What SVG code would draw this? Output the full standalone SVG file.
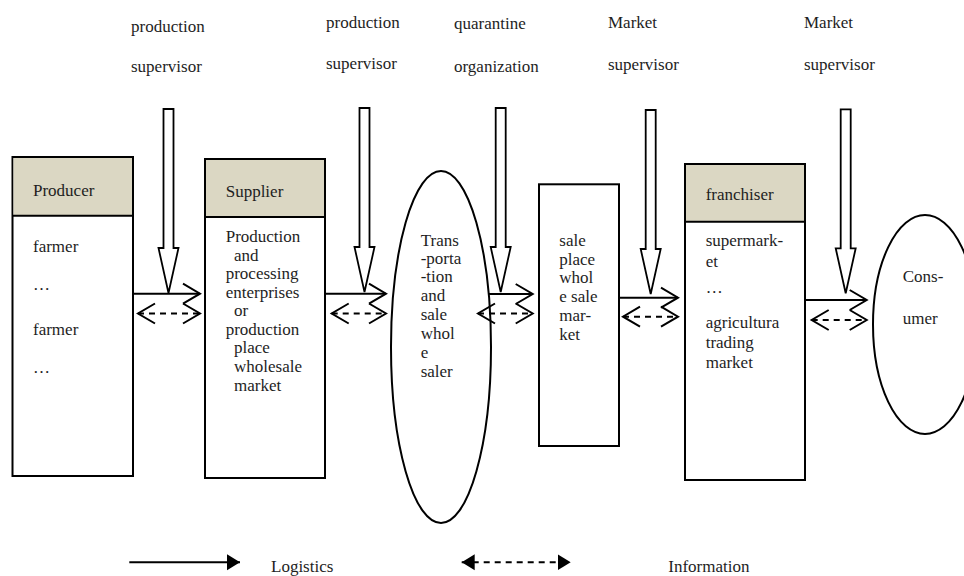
<svg xmlns="http://www.w3.org/2000/svg" width="964" height="576" viewBox="0 0 964 576">
<style>
text{font-family:"Liberation Serif","Times New Roman",serif;font-size:17px;fill:#1e1e1e}
.box{fill:#fff;stroke:#000;stroke-width:2}
.hdr{fill:#dbd7c3;stroke:none}
.sep{stroke:#000;stroke-width:2}
.oval{fill:#fff;stroke:#000;stroke-width:2}
.block{fill:#fff;stroke:#000;stroke-width:1.8;stroke-linejoin:miter}
.log{stroke:#000;stroke-width:2;fill:none}
.info{stroke:#000;stroke-width:2;fill:none;stroke-dasharray:6 5}
.chev{fill:none;stroke:#000;stroke-width:2}
.tri{fill:#000;stroke:none}
</style>
<defs>
<marker id="open" markerUnits="userSpaceOnUse" markerWidth="22" markerHeight="24" viewBox="0 0 22 24" refX="19" refY="12" orient="auto-start-reverse">
<path class="chev" d="M2,2 L19,12 L2,22"/>
</marker>
<marker id="solid" markerUnits="userSpaceOnUse" markerWidth="14" markerHeight="18" viewBox="0 0 14 18" refX="13" refY="9" orient="auto-start-reverse">
<path class="tri" d="M0,1 L13,9 L0,17 Z"/>
</marker>
<path id="blk" class="block" d="M-5,-184 H5 V-45 H10 L0,0 L-10,-45 H-5 Z"/>
</defs>

<g id="labels">
<text x="131" y="32">production</text>
<text x="131" y="72">supervisor</text>
<text x="326" y="28">production</text>
<text x="326" y="69">supervisor</text>
<text x="454" y="29">quarantine</text>
<text x="454" y="72">organization</text>
<text x="608" y="28">Market</text>
<text x="608" y="70">supervisor</text>
<text x="804" y="28">Market</text>
<text x="804" y="70">supervisor</text>
</g>

<g id="producer">
<rect class="box" x="12.5" y="157" width="120.5" height="319"/>
<rect class="hdr" x="13.5" y="158" width="118.5" height="57.5"/>
<line class="sep" x1="12.5" y1="215.7" x2="133" y2="215.7"/>
<text x="33" y="196">Producer</text>
<text x="33" y="252">farmer</text>
<text x="33" y="290">…</text>
<text x="33" y="335">farmer</text>
<text x="33" y="373">…</text>
</g>

<g id="supplier">
<rect class="box" x="205" y="159" width="120" height="319"/>
<rect class="hdr" x="206" y="160" width="118" height="57"/>
<line class="sep" x1="205" y1="217" x2="325" y2="217"/>
<text x="225.7" y="197">Supplier</text>
<text x="225.7" y="242">Production</text>
<text x="234" y="261">and</text>
<text x="225.7" y="279">processing</text>
<text x="225.7" y="298">enterprises</text>
<text x="234" y="316">or</text>
<text x="225.7" y="335">production</text>
<text x="234" y="353">place</text>
<text x="234" y="372">wholesale</text>
<text x="234" y="391">market</text>
</g>

<g id="transport">
<ellipse class="oval" cx="441" cy="347" rx="50" ry="176"/>
<text x="420.7" y="246">Trans</text>
<text x="420.7" y="264">-porta</text>
<text x="420.7" y="282">-tion</text>
<text x="420.7" y="301">and</text>
<text x="420.7" y="320">sale</text>
<text x="420.7" y="339">whol</text>
<text x="420.7" y="358">e</text>
<text x="420.7" y="377">saler</text>
</g>

<g id="saleplace">
<rect class="box" x="539" y="184.3" width="80" height="261.7"/>
<text x="559.3" y="246">sale</text>
<text x="559.3" y="265">place</text>
<text x="559.3" y="283">whol</text>
<text x="559.3" y="302">e sale</text>
<text x="559.3" y="321">mar-</text>
<text x="559.3" y="340">ket</text>
</g>

<g id="franchiser">
<rect class="box" x="685" y="164" width="120" height="316"/>
<rect class="hdr" x="686" y="165" width="118" height="56.7"/>
<line class="sep" x1="685" y1="221.7" x2="805" y2="221.7"/>
<text x="705.7" y="200">franchiser</text>
<text x="705.7" y="246">supermark-</text>
<text x="705.7" y="267">et</text>
<text x="705.7" y="293">…</text>
<text x="705.7" y="328">agricultura</text>
<text x="705.7" y="348">trading</text>
<text x="705.7" y="368">market</text>
</g>

<g id="consumer">
<ellipse class="oval" cx="925" cy="324.5" rx="52" ry="109.5"/>
<text x="902.7" y="282">Cons-</text>
<text x="902.7" y="324">umer</text>
</g>

<g id="supervision">
<use href="#blk" x="168.5" y="293"/>
<use href="#blk" x="364.5" y="292"/>
<use href="#blk" x="500.7" y="292"/>
<use href="#blk" x="650.7" y="294"/>
<use href="#blk" x="845.7" y="293.3"/>
</g>

<g id="connectors">
<line class="log" x1="133" y1="293.7" x2="200" y2="293.7" marker-end="url(#open)"/>
<line class="info" x1="138" y1="313.5" x2="200" y2="313.5" marker-start="url(#open)" marker-end="url(#open)"/>
<line class="log" x1="325" y1="293.7" x2="386" y2="293.7" marker-end="url(#open)"/>
<line class="info" x1="331.7" y1="313.5" x2="386" y2="313.5" marker-start="url(#open)" marker-end="url(#open)"/>
<line class="log" x1="489" y1="294" x2="532.7" y2="294" marker-end="url(#open)"/>
<line class="info" x1="478" y1="313.5" x2="532.7" y2="313.5" marker-start="url(#open)" marker-end="url(#open)"/>
<line class="log" x1="619" y1="297.7" x2="678" y2="297.7" marker-end="url(#open)"/>
<line class="info" x1="623" y1="316.7" x2="678" y2="316.7" marker-start="url(#open)" marker-end="url(#open)"/>
<line class="log" x1="805" y1="300" x2="866.7" y2="300" marker-end="url(#open)"/>
<line class="info" x1="811.7" y1="320" x2="866.7" y2="320" marker-start="url(#open)" marker-end="url(#open)"/>
</g>

<g id="legend">
<line class="log" x1="129.3" y1="562.3" x2="240" y2="562.3" marker-end="url(#solid)"/>
<text x="271" y="572">Logistics</text>
<line class="info" x1="461.7" y1="562.3" x2="570.7" y2="562.3" marker-start="url(#solid)" marker-end="url(#solid)"/>
<text x="668.3" y="572">Information</text>
</g>
</svg>
